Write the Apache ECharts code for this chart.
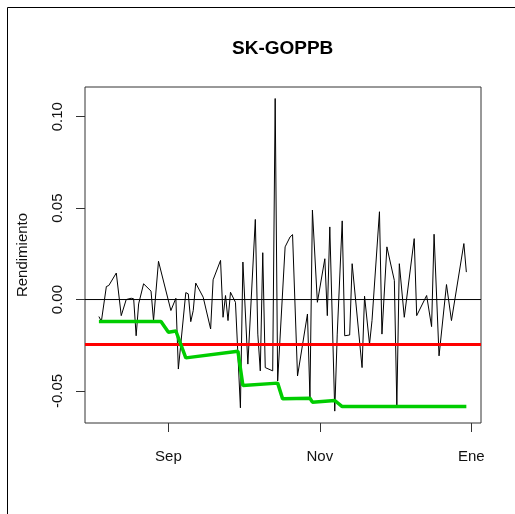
<!DOCTYPE html>
<html>
<head>
<meta charset="utf-8">
<script src="https://cdn.jsdelivr.net/npm/echarts@6/dist/echarts.min.js"></script>
<style>
html,body{margin:0;padding:0;background:#fff;}
#chart{width:515px;height:514px;}
</style>
</head>
<body>
<div id="chart"></div>
<script>
// ---- data ----
var chartTitle = 'SK-GOPPB';
var yName = 'Rendimiento';
var retDates = ['2008-08-04','2008-08-05','2008-08-07','2008-08-08','2008-08-11','2008-08-13','2008-08-15','2008-08-17','2008-08-18','2008-08-19',
'2008-08-20','2008-08-22','2008-08-25','2008-08-26','2008-08-28','2008-09-02','2008-09-04','2008-09-05','2008-09-08','2008-09-09',
'2008-09-10','2008-09-11','2008-09-12','2008-09-15','2008-09-18','2008-09-19','2008-09-22','2008-09-23','2008-09-24','2008-09-25',
'2008-09-26','2008-09-28','2008-09-30','2008-10-01','2008-10-03','2008-10-06','2008-10-07','2008-10-08','2008-10-09','2008-10-10','2008-10-13',
'2008-10-14','2008-10-15','2008-10-18','2008-10-20','2008-10-21','2008-10-23','2008-10-27','2008-10-28','2008-10-29','2008-10-31',
'2008-11-03','2008-11-04','2008-11-05','2008-11-07','2008-11-08','2008-11-10','2008-11-11','2008-11-13','2008-11-14','2008-11-18',
'2008-11-19','2008-11-21','2008-11-22','2008-11-25','2008-11-26','2008-11-28','2008-12-01','2008-12-02','2008-12-03','2008-12-05','2008-12-09',
'2008-12-10','2008-12-14','2008-12-16','2008-12-17','2008-12-19','2008-12-22','2008-12-24','2008-12-29','2008-12-30'];
var retValues = [-0.0093,-0.0119,0.0071,0.0077,0.0145,-0.0088,0.0000,0.0007,0.0004,-0.0198,
-0.0024,0.0086,0.0046,-0.0115,0.0209,-0.0060,0.0007,-0.0380,0.0038,0.0031,
-0.0121,-0.0060,0.0090,0.0013,-0.0161,0.0108,0.0214,-0.0097,0.0022,-0.0115,
0.0040,-0.0015,-0.0592,0.0205,-0.0353,0.0438,-0.0189,-0.0390,0.0256,-0.0372,-0.0390,
0.1099,-0.0445,0.0288,0.0342,0.0355,-0.0418,-0.0079,-0.0537,0.0489,-0.0015,
0.0223,-0.0088,0.0397,-0.0610,-0.0189,0.0430,-0.0198,-0.0194,0.0196,-0.0372,
0.0018,-0.0244,-0.0115,0.0480,-0.0189,0.0288,0.0104,-0.0582,0.0196,-0.0097,0.0333,
-0.0088,0.0022,-0.0148,0.0357,-0.0308,0.0082,-0.0115,0.0306,0.0150];
var minDates = ['2008-08-04','2008-08-29','2008-09-01','2008-09-04','2008-09-08','2008-09-29','2008-10-01','2008-10-15','2008-10-17','2008-10-28','2008-10-29','2008-11-07','2008-11-10','2008-12-30'];
var minValues = [-0.0120,-0.0120,-0.0179,-0.0172,-0.0319,-0.0283,-0.0470,-0.0457,-0.0543,-0.0540,-0.0561,-0.0552,-0.0585,-0.0585];
var redLevel = -0.0246;
var zeroLevel = 0;
var xTickDates = ['2008-09-01','2008-11-01','2009-01-01'];
var xTickLabels = ['Sep','Nov','Ene'];
var yTicks = [-0.05, 0, 0.05, 0.10];
var xRange = [-33.6, 125.9];   // days relative to 2008-09-01
var yRange = [-0.0675, 0.1162];

// ---- helpers ----
var origin = Date.UTC(2008, 8, 1);
function dayNum(s){ var p = s.split('-'); return (Date.UTC(+p[0], +p[1]-1, +p[2]) - origin) / 86400000; }
var retData = retDates.map(function(d,i){ return [dayNum(d), retValues[i]]; });
var minData = minDates.map(function(d,i){ return [dayNum(d), minValues[i]]; });
var xTicks = xTickDates.map(dayNum);
var tickLabelMap = {};
xTicks.forEach(function(v,i){ tickLabelMap[v] = xTickLabels[i]; });
function hline(level){ return [[xRange[0], level], [xRange[1], level]]; }

var FONT = '"Liberation Sans", Arial, sans-serif';
var chart = echarts.init(document.getElementById('chart'), null, {renderer:'canvas'});
chart.setOption({
  animation: false,
  backgroundColor: '#fff',
  title: {
    text: chartTitle, left: 232, top: 39, padding: 0,
    textStyle: {fontFamily: FONT, fontWeight: 'bold', fontSize: 19, color: '#000'}
  },
  graphic: [
    {type:'line', shape:{x1:7.5, y1:7.5, x2:515, y2:7.5}, style:{stroke:'#000', lineWidth:1}},
    {type:'line', shape:{x1:7.5, y1:7.5, x2:7.5, y2:514}, style:{stroke:'#000', lineWidth:1}}
  ],
  grid: {left: 85, top: 87, width: 396, height: 336, show: true, borderColor: '#333', borderWidth: 1, backgroundColor: 'transparent'},
  xAxis: {
    type: 'value', min: xRange[0], max: xRange[1],
    splitLine: {show: false},
    axisLine: {show: false, onZero: false},
    axisTick: {show: true, inside: false, length: 9, customValues: xTicks, lineStyle: {color: '#333'}},
    axisLabel: {customValues: xTicks, margin: 26, fontFamily: FONT, fontSize: 15, color: '#111',
      formatter: function(v){ return tickLabelMap[v] || ''; }}
  },
  yAxis: {
    type: 'value', min: yRange[0], max: yRange[1],
    name: yName, nameLocation: 'middle', nameRotate: 90, nameGap: 55,
    nameTextStyle: {fontFamily: FONT, fontSize: 15, color: '#111'},
    splitLine: {show: false},
    axisLine: {show: false, onZero: false},
    axisTick: {show: true, inside: false, length: 9, customValues: yTicks, lineStyle: {color: '#333'}},
    axisLabel: {customValues: yTicks, rotate: 90, margin: 20, fontFamily: FONT, fontSize: 15, color: '#111',
      formatter: function(v){ return v.toFixed(2); }}
  },
  series: [
    {type: 'line', data: retData, symbol: 'none', z: 2,
      lineStyle: {color: '#000', width: 1}, silent: true},
    {type: 'line', data: hline(zeroLevel), symbol: 'none', z: 3,
      lineStyle: {color: '#000', width: 1}, silent: true},
    {type: 'line', data: hline(redLevel), symbol: 'none', z: 4,
      lineStyle: {color: '#ff0000', width: 3}, silent: true},
    {type: 'line', data: minData, symbol: 'none', z: 5,
      lineStyle: {color: '#00cd00', width: 3.5}, silent: true}
  ]
});
</script>
</body>
</html>
